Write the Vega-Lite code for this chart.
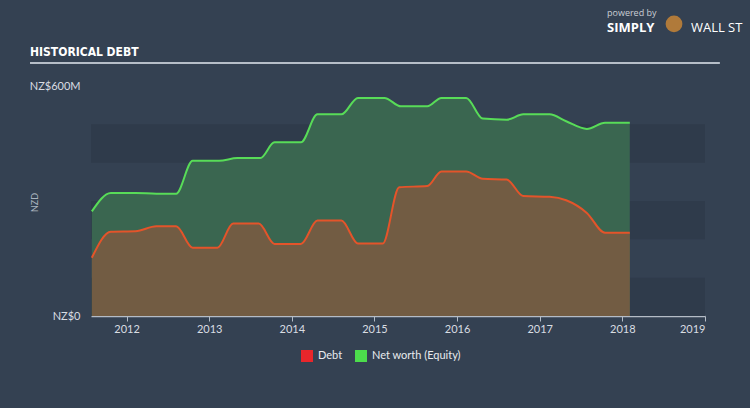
{
  "$schema": "https://vega.github.io/schema/vega-lite/v6.json",
  "width": 614,
  "height": 230,
  "autosize": {"type": "none"},
  "padding": {"left": 91, "top": 86, "right": 45, "bottom": 92},
  "background": "#344152",
  "config": {"view": {"stroke": null}, "font": "Lato"},
  "datasets": {
    "bands": [
      {"lo": 0, "hi": 100},
      {"lo": 200, "hi": 300},
      {"lo": 400, "hi": 500}
    ],
    "fin": [
      {"year": 2011.58, "series": "Net worth (Equity)", "value": 273},
      {"year": 2011.81, "series": "Net worth (Equity)", "value": 321},
      {"year": 2012.11, "series": "Net worth (Equity)", "value": 321},
      {"year": 2012.36, "series": "Net worth (Equity)", "value": 319},
      {"year": 2012.60, "series": "Net worth (Equity)", "value": 319},
      {"year": 2012.80, "series": "Net worth (Equity)", "value": 405},
      {"year": 2013.12, "series": "Net worth (Equity)", "value": 405},
      {"year": 2013.34, "series": "Net worth (Equity)", "value": 412},
      {"year": 2013.62, "series": "Net worth (Equity)", "value": 412},
      {"year": 2013.79, "series": "Net worth (Equity)", "value": 453},
      {"year": 2014.11, "series": "Net worth (Equity)", "value": 453},
      {"year": 2014.31, "series": "Net worth (Equity)", "value": 526},
      {"year": 2014.60, "series": "Net worth (Equity)", "value": 526},
      {"year": 2014.80, "series": "Net worth (Equity)", "value": 569},
      {"year": 2015.12, "series": "Net worth (Equity)", "value": 569},
      {"year": 2015.32, "series": "Net worth (Equity)", "value": 547},
      {"year": 2015.64, "series": "Net worth (Equity)", "value": 547},
      {"year": 2015.81, "series": "Net worth (Equity)", "value": 569},
      {"year": 2016.11, "series": "Net worth (Equity)", "value": 569},
      {"year": 2016.31, "series": "Net worth (Equity)", "value": 515},
      {"year": 2016.60, "series": "Net worth (Equity)", "value": 512},
      {"year": 2016.80, "series": "Net worth (Equity)", "value": 526},
      {"year": 2017.12, "series": "Net worth (Equity)", "value": 526},
      {"year": 2017.32, "series": "Net worth (Equity)", "value": 508},
      {"year": 2017.57, "series": "Net worth (Equity)", "value": 488},
      {"year": 2017.79, "series": "Net worth (Equity)", "value": 504},
      {"year": 2018.09, "series": "Net worth (Equity)", "value": 504},
      {"year": 2011.58, "series": "Debt", "value": 152},
      {"year": 2011.81, "series": "Debt", "value": 220},
      {"year": 2012.11, "series": "Debt", "value": 221},
      {"year": 2012.36, "series": "Debt", "value": 234},
      {"year": 2012.60, "series": "Debt", "value": 234},
      {"year": 2012.80, "series": "Debt", "value": 178},
      {"year": 2013.10, "series": "Debt", "value": 178},
      {"year": 2013.29, "series": "Debt", "value": 241},
      {"year": 2013.60, "series": "Debt", "value": 241},
      {"year": 2013.79, "series": "Debt", "value": 188},
      {"year": 2014.11, "series": "Debt", "value": 188},
      {"year": 2014.31, "series": "Debt", "value": 249},
      {"year": 2014.60, "series": "Debt", "value": 249},
      {"year": 2014.80, "series": "Debt", "value": 189},
      {"year": 2015.10, "series": "Debt", "value": 189},
      {"year": 2015.30, "series": "Debt", "value": 336},
      {"year": 2015.64, "series": "Debt", "value": 339},
      {"year": 2015.81, "series": "Debt", "value": 377},
      {"year": 2016.11, "series": "Debt", "value": 377},
      {"year": 2016.31, "series": "Debt", "value": 358},
      {"year": 2016.60, "series": "Debt", "value": 356},
      {"year": 2016.80, "series": "Debt", "value": 313},
      {"year": 2017.12, "series": "Debt", "value": 311},
      {"year": 2017.32, "series": "Debt", "value": 302},
      {"year": 2017.57, "series": "Debt", "value": 269},
      {"year": 2017.79, "series": "Debt", "value": 217},
      {"year": 2018.09, "series": "Debt", "value": 217}
    ],
    "one": [{"k": 1}]
  },
  "layer": [
    {
      "data": {"name": "bands"},
      "mark": {"type": "rect", "color": "#2f3b4b"},
      "encoding": {
        "y": {"field": "lo", "type": "quantitative", "scale": {"domain": [0, 600], "nice": false}},
        "y2": {"field": "hi"}
      }
    },
    {
      "data": {"name": "fin"},
      "transform": [{"filter": "datum.series === 'Net worth (Equity)'"}],
      "mark": {"type": "area", "interpolate": "monotone", "fill": "#3a6650", "fillOpacity": 1},
      "encoding": {
        "x": {
          "field": "year",
          "type": "quantitative",
          "scale": {"domain": [2011.57, 2019], "nice": false, "zero": false},
          "axis": {
            "values": [2012, 2013, 2014, 2015, 2016, 2017, 2018, 2019],
            "format": "d",
            "title": null,
            "grid": false,
            "domainColor": "#b4bcc6",
            "domainWidth": 1.5,
            "tickColor": "#b4bcc6",
            "tickSize": 5,
            "labelPadding": 2,
            "labelColor": "#d9dde2",
            "labelFont": "Lato",
            "labelFontSize": 11
          }
        },
        "y": {
          "field": "value",
          "type": "quantitative",
          "scale": {"domain": [0, 600], "nice": false},
          "axis": {
            "values": [0, 600],
            "labelExpr": "datum.value == 0 ? 'NZ$0' : 'NZ$600M'",
            "domain": false,
            "ticks": false,
            "grid": false,
            "labelPadding": 11,
            "labelColor": "#d9dde2",
            "labelFont": "Lato",
            "labelFontSize": 11,
            "title": "NZD",
            "titleColor": "#aab4bf",
            "titleFont": "Lato",
            "titleFontSize": 9,
            "titleFontWeight": "normal",
            "titleX": -52,
            "titleY": 116
          }
        },
        "color": {
          "field": "series",
          "type": "nominal",
          "scale": {"domain": ["Debt", "Net worth (Equity)"], "range": ["#e8262b", "#4cdc4c"]},
          "legend": {
            "title": null,
            "orient": "none",
            "legendX": 210,
            "legendY": 264,
            "direction": "horizontal",
            "symbolType": "square",
            "symbolSize": 144,
            "symbolStrokeWidth": 0,
            "labelFont": "Lato",
            "labelFontSize": 11,
            "labelColor": "#e8ebee",
            "labelOffset": 5,
            "columnPadding": 12
          }
        }
      }
    },
    {
      "data": {"name": "fin"},
      "transform": [{"filter": "datum.series === 'Debt'"}],
      "mark": {"type": "area", "interpolate": "monotone", "fill": "#725c43", "fillOpacity": 1},
      "encoding": {
        "x": {"field": "year", "type": "quantitative"},
        "y": {"field": "value", "type": "quantitative"},
        "color": {"field": "series", "type": "nominal"}
      }
    },
    {
      "data": {"name": "fin"},
      "transform": [{"filter": "datum.series === 'Net worth (Equity)'"}],
      "mark": {"type": "line", "interpolate": "monotone", "stroke": "#58dc58", "strokeWidth": 2},
      "encoding": {
        "x": {"field": "year", "type": "quantitative"},
        "y": {"field": "value", "type": "quantitative"}
      }
    },
    {
      "data": {"name": "fin"},
      "transform": [{"filter": "datum.series === 'Debt'"}],
      "mark": {"type": "line", "interpolate": "monotone", "stroke": "#e4542a", "strokeWidth": 2},
      "encoding": {
        "x": {"field": "year", "type": "quantitative"},
        "y": {"field": "value", "type": "quantitative"}
      }
    },
    {
      "data": {"name": "one"},
      "mark": {"type": "rule", "stroke": "#b6bec8", "strokeWidth": 2},
      "encoding": {
        "x": {"datum": 2010.832},
        "x2": {"datum": 2019.18},
        "y": {"datum": 660}
      }
    },
    {
      "data": {"name": "one"},
      "mark": {"type": "text", "align": "left", "baseline": "middle", "font": "DejaVu Sans Condensed", "fontSize": 12, "fontWeight": "bold", "color": "#ffffff"},
      "encoding": {
        "x": {"datum": 2010.832},
        "y": {"datum": 688},
        "text": {"value": "HISTORICAL DEBT"}
      }
    },
    {
      "data": {"name": "one"},
      "mark": {"type": "text", "align": "left", "baseline": "middle", "font": "Open Sans", "fontSize": 9, "color": "#c9ced4"},
      "encoding": {
        "x": {"datum": 2017.814},
        "y": {"datum": 791},
        "text": {"value": "powered by"}
      }
    },
    {
      "data": {"name": "one"},
      "mark": {"type": "text", "align": "left", "baseline": "middle", "font": "Open Sans", "fontSize": 13, "fontWeight": "bold", "color": "#ffffff"},
      "encoding": {
        "x": {"datum": 2017.814},
        "y": {"datum": 751},
        "text": {"value": "SIMPLY"}
      }
    },
    {
      "data": {"name": "one"},
      "mark": {"type": "point", "filled": true, "color": "#b07a3a", "size": 280, "opacity": 1},
      "encoding": {
        "x": {"datum": 2018.625},
        "y": {"datum": 762}
      }
    },
    {
      "data": {"name": "one"},
      "mark": {"type": "text", "align": "left", "baseline": "middle", "font": "Open Sans", "fontSize": 13, "fontWeight": "normal", "color": "#ffffff"},
      "encoding": {
        "x": {"datum": 2018.83},
        "y": {"datum": 751},
        "text": {"value": "WALL ST"}
      }
    }
  ]
}
